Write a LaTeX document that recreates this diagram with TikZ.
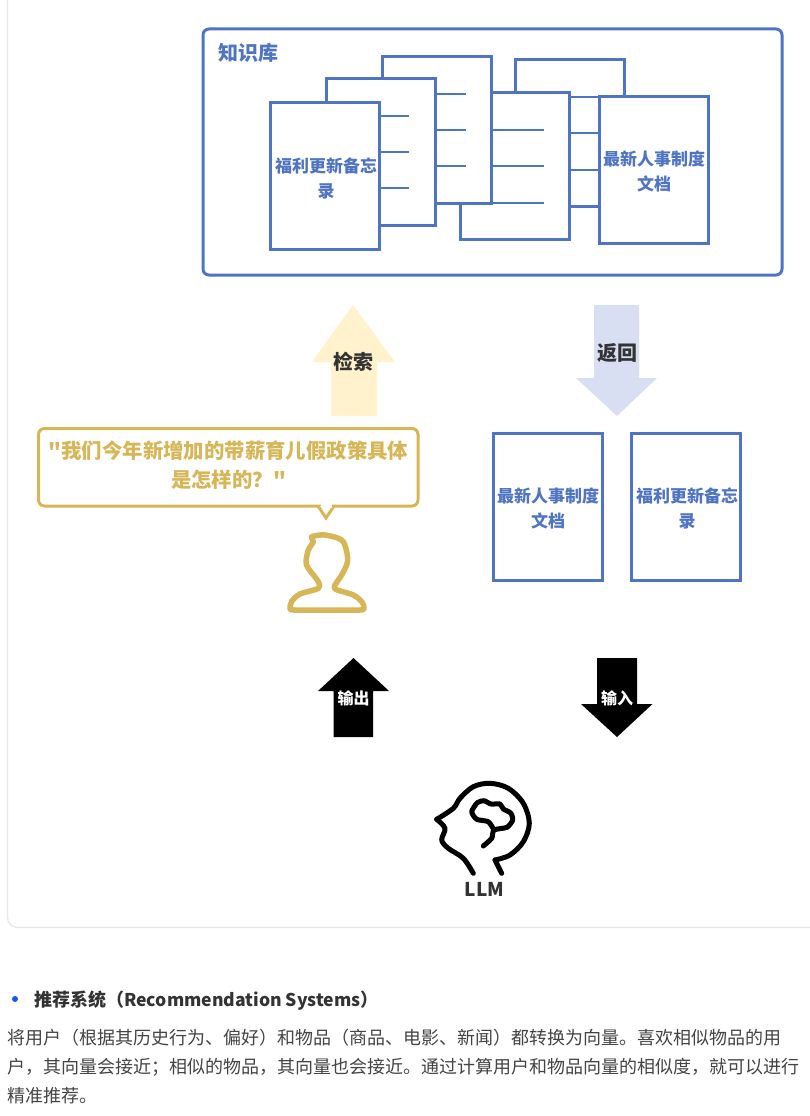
\documentclass[tikz,border=0pt]{standalone}
\usepackage{fontspec}
\setmainfont{Noto Sans CJK SC}
\newfontfamily\quotefont{Noto Sans CJK SC}
\usepackage{xcolor}
\usetikzlibrary{arrows.meta,positioning,calc}
\definecolor{docblue}{RGB}{79,117,194}
\definecolor{softgold}{RGB}{255,242,204}
\definecolor{softindigo}{RGB}{217,223,243}
\definecolor{bubblegold}{RGB}{214,182,86}
\definecolor{framegray}{RGB}{229,231,235}
\definecolor{bulletblue}{RGB}{26,86,240}
\definecolor{inkgray}{RGB}{51,51,51}
\definecolor{bodygray}{RGB}{68,68,68}
\tikzset{
  docbox/.style={draw=docblue, fill=white, line width=3pt, minimum width=108.5pt, minimum height=147pt, outer sep=0pt},
  doctext/.style={inner sep=0pt, align=center, text=docblue, font=\fontsize{17}{25}\selectfont\bfseries},
  docline/.style={draw=docblue, line width=1.3pt},
  arrowlabel/.style={font=\fontsize{20}{24}\selectfont\bfseries, text=inkgray, inner sep=0pt},
  blacklabel/.style={font=\fontsize{16}{18}\selectfont\bfseries, text=white, inner sep=0pt},
  iconline/.style={line width=5pt, line cap=round, line join=round}
}

\begin{document}
\begin{tikzpicture}[>=Latex, x=1pt, y=-1pt]
  \useasboundingbox (0,0) rectangle (810,1116);
  \fill[white] (0,0) rectangle (810,1116);
  % outer card
  \draw[framegray, line width=1.2pt, rounded corners=10pt] (7.5,-12) -- (7.5,927.5) -- (822,927.5);

  % knowledge base
  \node[draw=docblue, line width=3pt, rounded corners=6pt, minimum width=579pt, minimum height=246pt, outer sep=0pt] (kbase) at (492.5,152) {};
  \node[anchor=west, inner sep=0pt, text=docblue, font=\fontsize{20}{24}\selectfont\bfseries] (kbtitle) at (218,53) {知识库};

  \node[docbox] (docfive) at (570,133) {};
  \foreach \yy in {97,133,170} \draw[docline] (570,\yy) -- (600,\yy);
  \node[docbox] (docfour) at (515,166) {};
  \foreach \yy in {130,166,203} \draw[docline] (490,\yy) -- (544,\yy);
  \node[docbox] (docthree) at (437,130) {};
  \foreach \yy in {94,130,166} \draw[docline] (434,\yy) -- (466,\yy);
  \node[docbox] (doctwo) at (381,152) {};
  \foreach \yy in {116,152,188} \draw[docline] (378,\yy) -- (409,\yy);
  \node[docbox] (memoa) at (325,176) {};
  \node[doctext] (memoatext) at (326,178) {福利更新备忘\\录};
  \node[docbox] (hrdoca) at (654,170) {};
  \node[doctext] (hrdocatext) at (654,171.5) {最新人事制度\\文档};

  % retrieve and return
  \fill[softgold] (353,305) -- (395,362) -- (377,362) -- (377,416) -- (331,416) -- (331,362) -- (312,362) -- cycle;
  \node[arrowlabel] (retrieve) at (353,362) {检索};
  \fill[softindigo] (594,305) -- (639,305) -- (639,378) -- (657,378) -- (617,416) -- (576,378) -- (594,378) -- cycle;
  \node[arrowlabel] (giveback) at (617,353.5) {返回};

  % question
  \draw[bubblegold, line width=3pt, fill=white, rounded corners=6pt] (38.5,428.5) rectangle (418,506);
  \draw[bubblegold, line width=3pt, fill=white, line join=miter] (318,506) -- (326,518) -- (334,506);
  \draw[white, line width=3.2pt] (320.5,506) -- (331.5,506);
  \node[align=center, inner sep=0pt, text=bubblegold, font=\fontsize{20.4}{29}\selectfont\bfseries\quotefont] (question) at (228.5,465.5) {"我们今年新增加的带薪育儿假政策具体\\是怎样的？"};
  \draw[bubblegold, iconline, line width=5.5pt] plot[smooth cycle, tension=0.5] coordinates {(311.7,536.7) (325,535) (341.7,540) (346.7,551.7) (347.3,562.7) (341.7,575) (335,585) (335.7,589.3) (353.3,595) (362,602) (364,608) (360,610) (327,610) (294,610) (290,608) (292,601) (300,594) (318.3,588.3) (318.3,581.7) (308.3,568.3) (306,561.7) (308.3,550) (313.3,541.7)};

  % returned documents
  \node[docbox] (hrdocb) at (548,506.5) {};
  \node[doctext] (hrdocbtext) at (548,508) {最新人事制度\\文档};
  \node[docbox] (memob) at (686,506.5) {};
  \node[doctext] (memobtext) at (687,508) {福利更新备忘\\录};

  % model input and output
  \fill[black] (353.5,658) -- (389,691) -- (373,691) -- (373,737) -- (333.5,737) -- (333.5,691) -- (318,691) -- cycle;
  \node[blacklabel] (output) at (353.5,698) {输出};
  \fill[black] (597,658) -- (637,658) -- (637,704) -- (652.5,704) -- (617,737) -- (581,704) -- (597,704) -- cycle;
  \node[blacklabel] (input) at (617,698) {输入};

  % model head
  \draw[black, iconline] plot[smooth, tension=0.55] coordinates {(495,860) (510,855) (523.3,841.7) (529.3,823.3) (523.3,803.3) (508.3,788.3) (490,783.3) (473.3,786.7) (460,798.3) (453.3,808.3) (436.7,819.3)};
  \draw[black, iconline] plot[smooth, tension=0.55] coordinates {(436.7,819.3) (445,828.3) (441.7,840) (448.3,848.3) (463.3,858.3) (473.3,873.3)};
  \draw[black, iconline] (495,860) -- (501.7,873.3);
  \draw[black, iconline] plot[smooth, tension=0.4] coordinates {(483.3,846) (491.7,838.3) (494,830) (507,827.3) (512.7,820) (510.7,813) (503.3,809) (500,804) (491,804) (484,800.7) (477.3,802.7) (471.7,811.7) (476.7,819.3) (488.3,821.7) (494,830)};
  \node[inner sep=0pt, text=inkgray, font=\fontsize{19}{23}\selectfont\bfseries] (llm) at (484.5,889) {LLM};

  % text under the card
  \node[circle, fill=bulletblue, minimum size=6pt, inner sep=0pt] (bullet) at (15,999) {};
  \node[anchor=west, inner sep=0pt, text=inkgray, font=\fontsize{18}{24}\selectfont\bfseries] (heading) at (34,1000.5) {推荐系统（{\fontsize{17.6}{24}\selectfont Recommendation Systems}）};
  \node[anchor=west, inner sep=0pt, text=bodygray, font=\fontsize{18}{24}\selectfont] (bodya) at (7,1038) {将用户（根据其历史行为、偏好）和物品（商品、电影、新闻）都转换为向量。喜欢相似物品的用};
  \node[anchor=west, inner sep=0pt, text=bodygray, font=\fontsize{18}{24}\selectfont] (bodyb) at (7,1067) {户，其向量会接近；相似的物品，其向量也会接近。通过计算用户和物品向量的相似度，就可以进行};
  \node[anchor=west, inner sep=0pt, text=bodygray, font=\fontsize{18}{24}\selectfont] (bodyc) at (7,1096) {精准推荐。};
\end{tikzpicture}
\end{document}
